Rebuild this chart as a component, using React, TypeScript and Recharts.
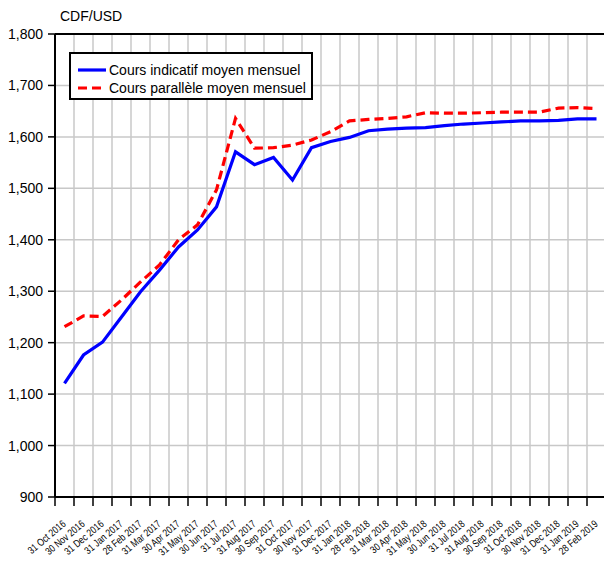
import React from 'react';
import { LineChart, Line, XAxis, YAxis, CartesianGrid, ReferenceLine } from 'recharts';

const months: string[] = [
  '31 Oct 2016', '30 Nov 2016', '31 Dec 2016', '31 Jan 2017', '28 Feb 2017', '31 Mar 2017',
  '30 Apr 2017', '31 May 2017', '30 Jun 2017', '31 Jul 2017', '31 Aug 2017', '30 Sep 2017',
  '31 Oct 2017', '30 Nov 2017', '31 Dec 2017', '31 Jan 2018', '28 Feb 2018', '31 Mar 2018',
  '30 Apr 2018', '31 May 2018', '30 Jun 2018', '31 Jul 2018', '31 Aug 2018', '30 Sep 2018',
  '31 Oct 2018', '30 Nov 2018', '31 Dec 2018', '31 Jan 2019', '28 Feb 2019',
];

const coursIndicatif: number[] = [
  1121, 1176, 1201, 1250, 1299, 1341, 1386, 1419, 1464, 1571, 1546, 1560, 1516, 1579, 1591,
  1599, 1612, 1615, 1617, 1618, 1622, 1625, 1627, 1629, 1631, 1631, 1632, 1635, 1635,
];

const coursParallele: number[] = [
  1231, 1252, 1251, 1283, 1318, 1351, 1400, 1429, 1497, 1636, 1578, 1579, 1584, 1594, 1610,
  1631, 1634, 1636, 1639, 1647, 1646, 1646, 1647, 1648, 1648, 1648, 1656, 1657, 1655,
];

const yTicks: number[] = [900, 1000, 1100, 1200, 1300, 1400, 1500, 1600, 1700, 1800];

const seriesNames = ['Cours indicatif moyen mensuel', 'Cours parallèle moyen mensuel'];

const data = months.map((m, i) => ({
  idx: i,
  label: m,
  indicatif: coursIndicatif[i],
  parallele: coursParallele[i],
}));

const centerTicks = months.map((_, i) => i);
const edgeTicks = months.map((_, i) => i - 0.5);

const FONT = '"Liberation Sans", Arial, sans-serif';

const XTick = (props: any) => {
  const { x, y, payload } = props;
  const lab = months[payload.value] ?? '';
  return (
    <g transform={`translate(${x + 2},${y + 10})`}>
      <text
        x={0}
        y={0}
        transform="rotate(-40) scale(0.8,1)"
        textAnchor="end"
        fontSize={10.5}
        fontFamily={FONT}
        fill="#000"
      >
        {lab}
      </text>
    </g>
  );
};

const EmptyTick = () => <g />;

const verticalGen = (p: any) => {
  const xa = p && p.xAxis;
  if (xa && typeof xa.scale === 'function') {
    return edgeTicks.map((t) => xa.scale(t));
  }
  const off = p.offset;
  return edgeTicks.map((t) => off.left + ((t + 0.5) / months.length) * off.width);
};

export default function App() {
  return (
    <div
      style={{
        position: 'absolute',
        left: 0,
        top: 0,
        width: 604,
        height: 564,
        overflow: 'hidden',
        background: '#fff',
        fontFamily: FONT,
      }}
    >
      <LineChart
        width={620}
        height={564}
        data={data}
        margin={{ top: 34, right: 14, left: 0, bottom: 0 }}
      >
        <CartesianGrid
          xAxisId="grid"
          stroke="#c8c8c8"
          strokeWidth={1.5}
          vertical
          horizontal
          verticalCoordinatesGenerator={verticalGen}
        />
        <XAxis
          xAxisId="grid"
          dataKey="idx"
          type="number"
          domain={[-0.5, 28.5]}
          ticks={edgeTicks}
          tick={<EmptyTick />}
          tickSize={9}
          tickLine={{ stroke: '#000', strokeWidth: 1.5 }}
          axisLine={{ stroke: '#000', strokeWidth: 2 }}
          height={10}
          interval={0}
          allowDecimals
        />
        <XAxis
          xAxisId="lab"
          dataKey="idx"
          type="number"
          domain={[-0.5, 28.5]}
          ticks={centerTicks}
          tick={<XTick />}
          tickLine={false}
          axisLine={false}
          height={57}
          interval={0}
        />
        <YAxis
          domain={[900, 1800]}
          ticks={yTicks}
          width={55}
          tickSize={7}
          tickMargin={5}
          interval={0}
          tickFormatter={(v: number) => v.toLocaleString('en-US')}
          tick={{ fill: '#000', fontSize: 14, fontFamily: FONT }}
          tickLine={{ stroke: '#000', strokeWidth: 1.5 }}
          axisLine={{ stroke: '#000', strokeWidth: 2 }}
        />
        <ReferenceLine xAxisId="grid" y={1800} stroke="#000" strokeWidth={2} />
        <Line
          xAxisId="grid"
          type="linear"
          dataKey="indicatif"
          name={seriesNames[0]}
          stroke="#0000ff"
          strokeWidth={3.2}
          dot={false}
          isAnimationActive={false}
        />
        <Line
          xAxisId="lab"
          type="linear"
          dataKey="parallele"
          name={seriesNames[1]}
          stroke="#ff0000"
          strokeWidth={3.2}
          strokeDasharray="9 5"
          dot={false}
          isAnimationActive={false}
        />
      </LineChart>
      <div
        style={{
          position: 'absolute',
          left: 60,
          top: 7,
          fontSize: 14,
          color: '#000',
          fontFamily: FONT,
          lineHeight: '18px',
        }}
      >
        CDF/USD
      </div>
      <div
        style={{
          position: 'absolute',
          left: 69,
          top: 52,
          width: 240,
          height: 44,
          border: '2px solid #000',
          background: '#fff',
          fontFamily: FONT,
          fontSize: 14,
          color: '#000',
          boxSizing: 'content-box',
        }}
      >
        {seriesNames.map((n, i) => (
          <div
            key={n}
            style={{
              position: 'absolute',
              left: 6,
              top: 7 + i * 18,
              height: 18,
              display: 'flex',
              alignItems: 'center',
              whiteSpace: 'nowrap',
            }}
          >
            <svg width={30} height={6} style={{ marginRight: 2 }}>
              <line
                x1={1}
                y1={3}
                x2={29}
                y2={3}
                stroke={i === 0 ? '#0000ff' : '#ff0000'}
                strokeWidth={3.2}
                strokeDasharray={i === 0 ? undefined : '9 5'}
              />
            </svg>
            <span style={{ lineHeight: '18px' }}>{n}</span>
          </div>
        ))}
      </div>
    </div>
  );
}
